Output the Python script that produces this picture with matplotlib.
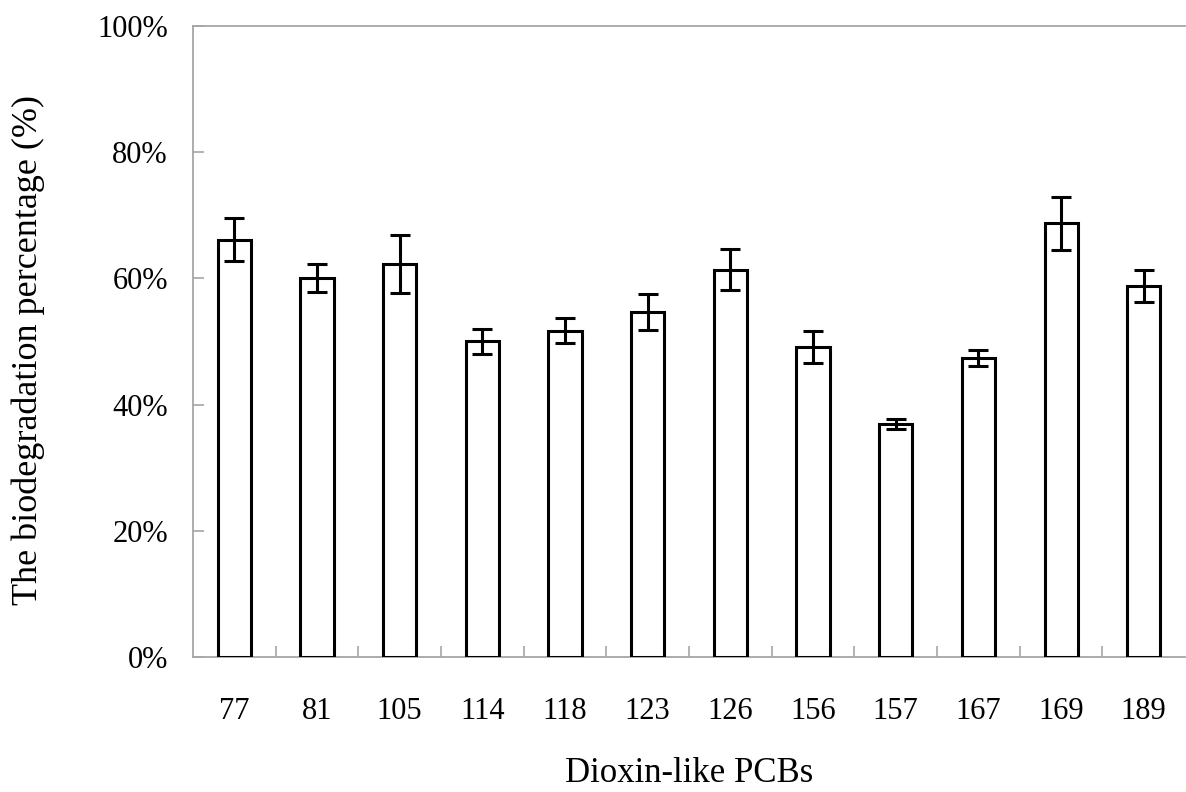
import numpy as np
import matplotlib
matplotlib.use("Agg")
import matplotlib.pyplot as plt
from matplotlib.ticker import FuncFormatter, MultipleLocator

# Data
pcbs = ["77", "81", "105", "114", "118", "123", "126", "156", "157", "167", "169", "189"]
degradation = [66.1, 60.1, 62.3, 50.0, 51.7, 54.7, 61.4, 49.1, 36.9, 47.4, 68.7, 58.8]
errors = [3.4, 2.2, 4.6, 2.0, 2.0, 2.9, 3.3, 2.5, 0.8, 1.3, 4.2, 2.5]

plt.rcParams['font.family'] = ['Liberation Serif', 'DejaVu Serif']

fig = plt.figure(figsize=(11.86, 7.92), dpi=100)
ax = fig.add_axes([0.1627, 0.1705, 0.8365, 0.7967])

x = np.arange(len(pcbs))
ax.bar(x, degradation, width=0.40, color="white", edgecolor="black", linewidth=2.2,
       yerr=errors, error_kw=dict(ecolor="black", elinewidth=2.2, capsize=7.5, capthick=2.2),
       zorder=3)

ax.set_xlim(-0.5, len(pcbs) - 0.5)
ax.set_ylim(0, 100)

# axis styling (Excel-like)
axis_gray = "#a6a6a6"
ax.spines["right"].set_visible(False)
for side in ("left", "bottom", "top"):
    ax.spines[side].set_color(axis_gray)
    ax.spines[side].set_linewidth(1.3)

ax.yaxis.set_major_locator(MultipleLocator(20))
ax.yaxis.set_major_formatter(FuncFormatter(lambda v, p: f"{v:.0f}%"))
ax.tick_params(axis="y", direction="in", length=8, width=1.2, color=axis_gray,
               labelsize=22, pad=18)

ax.set_xticks(x)
ax.set_xticklabels(pcbs)
ax.set_xticks(np.arange(0.5, len(pcbs) - 0.5, 1.0), minor=True)
ax.tick_params(axis="x", which="major", length=0, labelsize=22, pad=29)
ax.tick_params(axis="x", which="minor", direction="in", length=8, width=1.2, color=axis_gray)

ax.set_xlabel("Dioxin-like PCBs", fontsize=25, labelpad=22)
ax.set_ylabel("The biodegradation percentage (%)", fontsize=26)
ax.yaxis.set_label_coords(-0.149, 0.4865)

fig.savefig("out.png", dpi=100)
